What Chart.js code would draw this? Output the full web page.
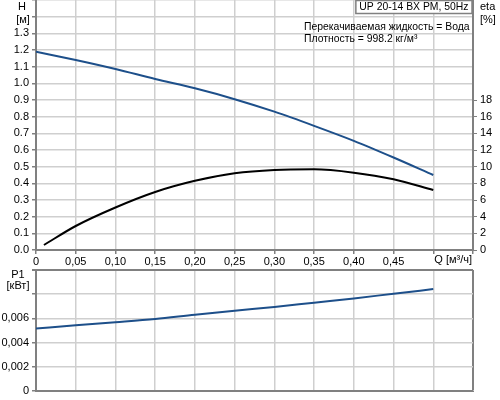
<!DOCTYPE html>
<html>
<head>
<meta charset="utf-8">
<script src="https://cdn.jsdelivr.net/npm/chart.js@4"></script>
<style>
  body { margin: 0; background: #fff; }
  #top { position: absolute; left: 0; top: 0; width: 500px; height: 268px; }
  #bottom { position: absolute; left: 0; top: 268px; width: 500px; height: 132px; }
</style>
</head>
<body>
<div id="top"><canvas id="pumpCurve"></canvas></div>
<div id="bottom"><canvas id="powerCurve"></canvas></div>
<script>
// Q [м³/ч]
const flow = [0, 0.05, 0.10, 0.15, 0.20, 0.25, 0.30, 0.35, 0.40, 0.45, 0.50];
const flowEta = [0.01, 0.05, 0.10, 0.15, 0.20, 0.25, 0.30, 0.35, 0.40, 0.45, 0.50];
// H [м]
const head = [1.19, 1.14, 1.086, 1.026, 0.97, 0.905, 0.83, 0.745, 0.655, 0.555, 0.45];
// eta [%]
const eta = [0.6, 2.88, 5.1, 6.96, 8.3, 9.2, 9.6, 9.68, 9.28, 8.48, 7.2];
// P1 [кВт]
const power = [0.00516, 0.00543, 0.00568, 0.00595, 0.00631, 0.00664, 0.00694, 0.0073, 0.00765, 0.00804, 0.00842];

const titleText = 'UP 20-14 BX PM, 50Hz';
const infoText = ['Перекачиваемая жидкость = Вода', 'Плотность = 998.2 кг/м³'];

Chart.defaults.font.family = '"Liberation Sans", Arial, sans-serif';
Chart.defaults.font.size = 11;
Chart.defaults.color = '#000';
Chart.defaults.animation = false;

const gridColor = '#cfcfcf';
const axisColor = '#808080';

function fmtComma(v, digits) {
    return v.toFixed(digits).replace('.', ',');
}

// убираем автоотступы под подписи, чтобы область графика была на месте
function noPad(s) {
    s.paddingTop = 0;
    s.paddingBottom = 0;
    s.paddingLeft = 0;
    s.paddingRight = 0;
}

// подписи осей и текстовые блоки
const textPlugin = {
    id: 'textPlugin',
    afterDraw(chart, args, opts) {
        const ctx = chart.ctx;
        const area = chart.chartArea;
        ctx.save();
        ctx.fillStyle = '#000';
        ctx.textBaseline = 'middle';
        (opts.items || []).forEach(it => {
            ctx.font = (it.size || 11) + 'px "Liberation Sans", Arial, sans-serif';
            ctx.textAlign = it.align || 'left';
            ctx.fillText(it.text, it.x(chart), it.y(chart));
        });
        if (opts.box) {
            ctx.font = '10.4px "Liberation Sans", Arial, sans-serif';
            const w = ctx.measureText(opts.box).width + 7;
            ctx.fillStyle = '#fff';
            ctx.fillRect(area.right - w - 1, area.top, w, 13);
            ctx.strokeStyle = axisColor;
            ctx.lineWidth = 1.5;
            ctx.strokeRect(area.right - w - 1, area.top + 0.5, w, 13);
            ctx.fillStyle = '#000';
            ctx.textAlign = 'left';
            ctx.fillText(opts.box, area.right - w + 2.5, area.top + 7);
        }
        ctx.restore();
    }
};

new Chart(document.querySelector('#pumpCurve'), {
    type: 'line',
    data: {
        datasets: [
            {
                data: flow.map((q, i) => ({ x: q, y: head[i] })),
                borderColor: '#1d4f8a',
                borderWidth: 2,
                pointRadius: 0,
                cubicInterpolationMode: 'monotone',
                yAxisID: 'y'
            },
            {
                data: flowEta.map((q, i) => ({ x: q, y: eta[i] })),
                borderColor: '#000',
                borderWidth: 2,
                pointRadius: 0,
                cubicInterpolationMode: 'monotone',
                yAxisID: 'y1'
            }
        ]
    },
    options: {
        responsive: true,
        maintainAspectRatio: false,
        layout: { padding: 0 },
        scales: {
            x: {
                type: 'linear',
                min: 0,
                max: 0.55,
                afterFit: s => { s.height = 18; noPad(s); },
                ticks: {
                    stepSize: 0.05,
                    maxRotation: 0,
                    autoSkip: false,
                    padding: 1,
                    callback: v => {
                        if (v === 0) return '0';
                        if (v > 0.47) return '';
                        return fmtComma(v, 2);
                    }
                },
                grid: { color: gridColor, lineWidth: 1.5, tickLength: 4, tickColor: axisColor },
                border: { color: axisColor, width: 2 }
            },
            y: {
                min: 0,
                max: 1.5,
                afterFit: s => { s.width = 36; noPad(s); },
                ticks: {
                    stepSize: 0.1,
                    autoSkip: false,
                    padding: 3,
                    callback: v => v > 1.35 ? '' : v.toFixed(1)
                },
                grid: { color: gridColor, lineWidth: 1.5, tickLength: 4, tickColor: axisColor },
                border: { color: axisColor, width: 2 }
            },
            y1: {
                position: 'right',
                min: 0,
                max: 30,
                afterFit: s => { s.width = 27; noPad(s); },
                afterBuildTicks: s => { s.ticks = s.ticks.filter(t => t.value <= 18); },
                ticks: { stepSize: 2, autoSkip: false, padding: 3 },
                grid: { drawOnChartArea: false, tickLength: 4, tickColor: axisColor },
                border: { color: axisColor, width: 2 }
            }
        },
        plugins: {
            legend: { display: false },
            tooltip: { enabled: false },
            textPlugin: {
                box: titleText,
                items: [
                    { text: 'H', align: 'center', x: c => 22, y: c => c.scales.y.getPixelForValue(1.5) + 7 },
                    { text: '[м]', align: 'center', x: c => 23, y: c => c.scales.y.getPixelForValue(1.4) + 3 },
                    { text: 'eta', align: 'left', x: c => c.chartArea.right + 7, y: c => c.scales.y.getPixelForValue(1.5) + 7 },
                    { text: '[%]', align: 'left', x: c => c.chartArea.right + 7, y: c => c.scales.y.getPixelForValue(1.4) + 3 },
                    { text: 'Q [м³/ч]', align: 'left', x: c => c.scales.x.getPixelForValue(0.5) + 1, y: c => c.chartArea.bottom + 10 },
                    { text: infoText[0], size: 10.4, align: 'left', x: c => 304, y: c => 27 },
                    { text: infoText[1], size: 10.4, align: 'left', x: c => 304, y: c => 39 }
                ]
            }
        }
    },
    plugins: [textPlugin]
});

new Chart(document.querySelector('#powerCurve'), {
    type: 'line',
    data: {
        datasets: [
            {
                data: flow.map((q, i) => ({ x: q, y: power[i] })),
                borderColor: '#1d4f8a',
                borderWidth: 2,
                pointRadius: 0,
                cubicInterpolationMode: 'monotone'
            }
        ]
    },
    options: {
        responsive: true,
        maintainAspectRatio: false,
        layout: { padding: { top: 2, right: 27, left: 0, bottom: 0 } },
        scales: {
            x: {
                type: 'linear',
                min: 0,
                max: 0.55,
                afterFit: s => { s.height = 9; noPad(s); },
                ticks: { stepSize: 0.05, display: false },
                grid: {
                    color: c => c.tick && c.tick.value > 0.54 ? axisColor : gridColor,
                    lineWidth: c => c.tick && c.tick.value > 0.54 ? 2 : 1.5,
                    tickLength: 0
                },
                border: { color: axisColor, width: 2 }
            },
            y: {
                min: 0,
                max: 0.01,
                afterFit: s => { s.width = 36; noPad(s); },
                ticks: {
                    stepSize: 0.002,
                    autoSkip: false,
                    padding: 3,
                    callback: v => {
                        if (v === 0) return '0';
                        if (v > 0.007) return '';
                        return fmtComma(v, 3);
                    }
                },
                grid: {
                    color: c => c.tick && c.tick.value > 0.0099 ? axisColor : gridColor,
                    lineWidth: c => c.tick && c.tick.value > 0.0099 ? 2 : 1.5,
                    tickLength: 4,
                    tickColor: axisColor
                },
                border: { color: axisColor, width: 2 }
            }
        },
        plugins: {
            legend: { display: false },
            tooltip: { enabled: false },
            textPlugin: {
                items: [
                    { text: 'P1', align: 'center', x: c => 18, y: c => c.chartArea.top + 5 },
                    { text: '[кВт]', align: 'center', x: c => 18, y: c => c.chartArea.top + 16 }
                ]
            }
        }
    },
    plugins: [textPlugin]
});
</script>
</body>
</html>
